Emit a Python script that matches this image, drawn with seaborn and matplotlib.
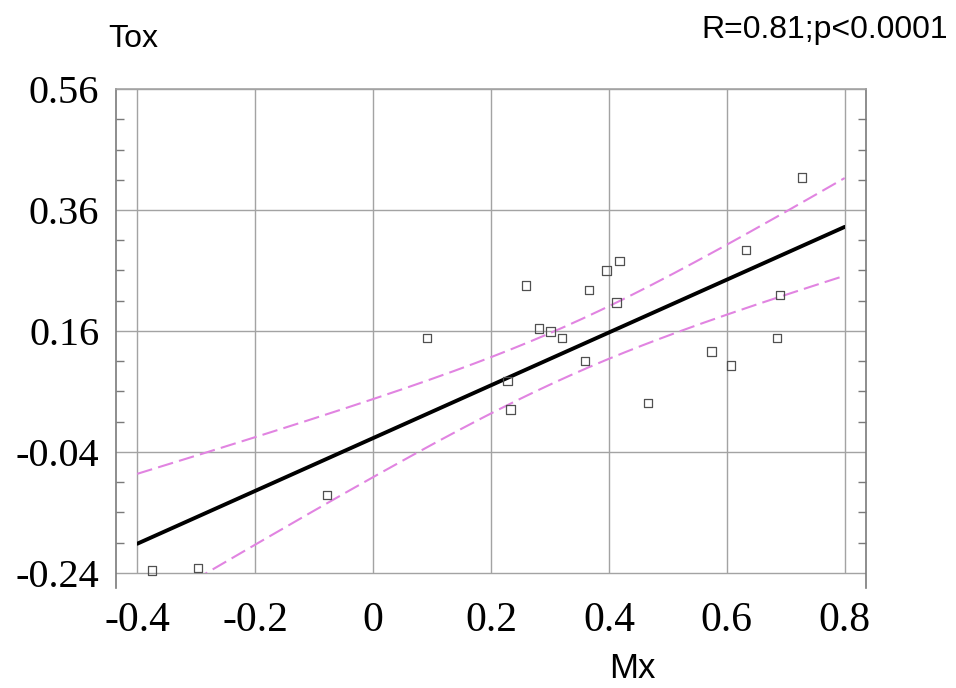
import numpy as np
import matplotlib.pyplot as plt
import seaborn as sns
from matplotlib.patches import Rectangle
from matplotlib.ticker import FixedLocator

# values
mx = [0.092, 0.259, 0.281, 0.301, 0.321, 0.359, 0.366, 0.396, 0.418, 0.413, 0.228,
      0.233, 0.466, 0.727, 0.633, 0.690, 0.685, 0.607, 0.574, -0.078, -0.375, -0.297]
tox = [0.148, 0.235, 0.164, 0.159, 0.148, 0.110, 0.228, 0.260, 0.276, 0.207, 0.077,
       0.030, 0.041, 0.414, 0.294, 0.220, 0.148, 0.103, 0.126, -0.111, -0.236, -0.232]

x_ticks = [-0.4, -0.2, 0, 0.2, 0.4, 0.6, 0.8]
x_tick_labels = ['-0.4', '-0.2', '0', '0.2', '0.4', '0.6', '0.8']
y_ticks = [-0.24, -0.04, 0.16, 0.36, 0.56]
y_tick_labels = ['-0.24', '-0.04', '0.16', '0.36', '0.56']
stat_text = 'R=0.81;p<0.0001'
t_crit = 2.086  # two-sided 95%, df = 20

sns.set_theme(style='white')
plt.rcParams['font.family'] = ['Liberation Serif', 'DejaVu Serif']
plt.rcParams['axes.unicode_minus'] = False
plt.rcParams['text.color'] = 'black'

fig = plt.figure(figsize=(9.56, 6.88), dpi=100)
ax = fig.add_axes([0.1213, 0.1453, 0.7845, 0.7253])

grid_col = '#a3a3a3'
spine_col = '#7a7a7a'

# regression line over the tick range
ax.set_xlim(x_ticks[0], x_ticks[-1])
sns.regplot(x=mx, y=tox, scatter=False, ci=None, truncate=False, ax=ax,
            color='black', line_kws=dict(lw=2.8, zorder=4))
fit_line = ax.lines[-1]

# 95% confidence band of the mean (dashed)
x = np.array(mx)
y = np.array(tox)
n = len(x)
slope, icpt = np.polyfit(x, y, 1)
s = np.sqrt(np.sum((y - (slope * x + icpt)) ** 2) / (n - 2))
xg = np.linspace(x_ticks[0], x_ticks[-1], 200)
half = t_crit * s * np.sqrt(1 / n + (xg - x.mean()) ** 2 / np.sum((x - x.mean()) ** 2))
yhat = slope * xg + icpt
band_lines = []
for yb in (yhat + half, yhat - half):
    ln, = ax.plot(xg, yb, color='#e184e1', lw=1.5, dashes=(7.5, 3), zorder=3)
    band_lines.append(ln)

sns.scatterplot(x=mx, y=tox, marker='s', s=36, facecolor='none',
                edgecolor='#505050', linewidth=0.9, ax=ax, zorder=5)

# clip lines to the gridded area
clip = Rectangle((x_ticks[0], y_ticks[0]), x_ticks[-1] - x_ticks[0],
                 y_ticks[-1] - y_ticks[0], transform=ax.transData)
for ln in [fit_line] + band_lines:
    ln.set_clip_path(clip)

ax.set_xlim(-0.436, 0.836)
ax.set_ylim(-0.265, 0.56)

# grid
ax.grid(axis='y', which='major', color=grid_col, lw=1)
ax.grid(axis='x', visible=False)
ax.vlines(x_ticks, y_ticks[0], y_ticks[-1], color=grid_col, lw=1, zorder=0.5)

ax.set_xticks(x_ticks)
ax.set_xticklabels(x_tick_labels, fontsize=30)
ax.set_yticks(y_ticks)
ax.set_yticklabels(y_tick_labels, fontsize=29)
ax.yaxis.set_minor_locator(FixedLocator(
    [v for v in np.arange(-0.24, 0.5601, 0.05) if min(abs(v - t) for t in y_ticks) > 1e-6]))
ax.tick_params(axis='x', length=0, pad=10, colors='black')
ax.tick_params(axis='y', which='major', length=0, pad=12, colors='black')
ax.tick_params(axis='y', which='minor', direction='in', length=6, width=1,
               color=spine_col, left=True, right=True)
ax.set_xlabel('')
ax.set_ylabel('')

for side in ['left', 'right', 'top']:
    ax.spines[side].set_color(spine_col)
    ax.spines[side].set_linewidth(1.2)
ax.spines['top'].set_color(grid_col)
ax.spines['bottom'].set_visible(False)

sans = ['Liberation Sans', 'DejaVu Sans']
fig.text(0.139, 0.9317, 'Tox', family=sans, fontsize=23, color='black',
         ha='center', va='baseline')
fig.text(0.9916, 0.9448, stat_text, family=sans, fontsize=23, color='black',
         ha='right', va='baseline')
fig.text(0.661, 0.0145, 'Mx', family=sans, fontsize=25, color='black',
         ha='center', va='baseline')

fig.savefig('out.png', dpi=100, facecolor='white')
